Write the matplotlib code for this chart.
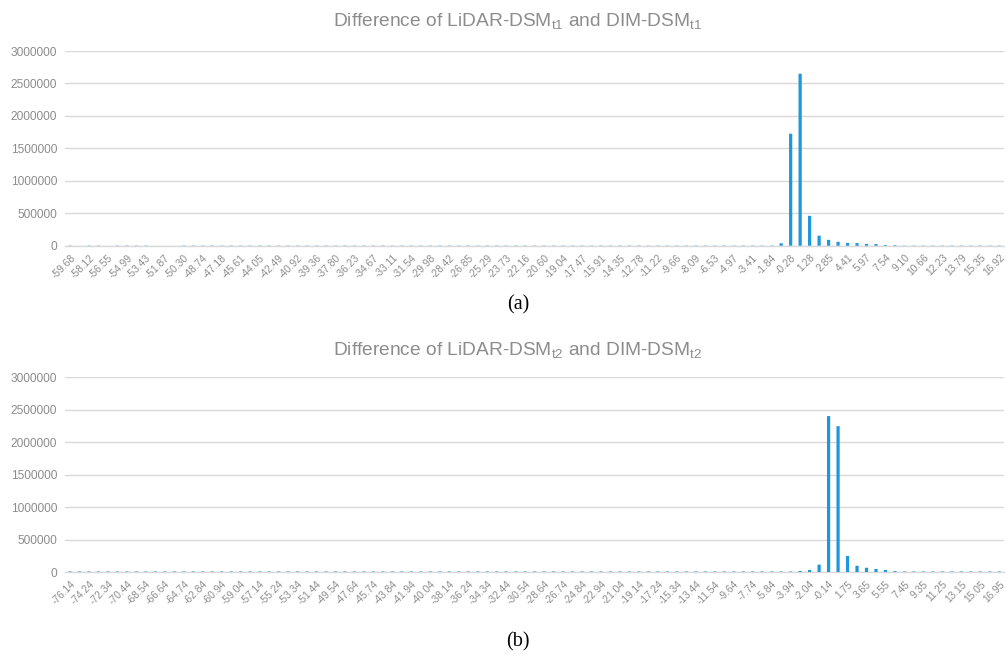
import matplotlib
matplotlib.use("Agg")
import matplotlib.pyplot as plt
import numpy as np

# ---------------- data ----------------
labels_a = ["-59.68", "-58.12", "-56.55", "-54.99", "-53.43", "-51.87", "-50.30", "-48.74",
            "-47.18", "-45.61", "-44.05", "-42.49", "-40.92", "-39.36", "-37.80", "-36.23",
            "-34.67", "-33.11", "-31.54", "-29.98", "-28.42", "-26.85", "-25.29", "-23.73",
            "-22.16", "-20.60", "-19.04", "-17.47", "-15.91", "-14.35", "-12.78", "-11.22",
            "-9.66", "-8.09", "-6.53", "-4.97", "-3.41", "-1.84", "-0.28", "1.28", "2.85",
            "4.41", "5.97", "7.54", "9.10", "10.66", "12.23", "13.79", "15.35", "16.92"]

labels_b = ["-76.14", "-74.24", "-72.34", "-70.44", "-68.54", "-66.64", "-64.74", "-62.84",
            "-60.94", "-59.04", "-57.14", "-55.24", "-53.34", "-51.44", "-49.54", "-47.64",
            "-45.74", "-43.84", "-41.94", "-40.04", "-38.14", "-36.24", "-34.34", "-32.44",
            "-30.54", "-28.64", "-26.74", "-24.84", "-22.94", "-21.04", "-19.14", "-17.24",
            "-15.34", "-13.44", "-11.54", "-9.64", "-7.74", "-5.84", "-3.94", "-2.04",
            "-0.14", "1.75", "3.65", "5.55", "7.45", "9.35", "11.25", "13.15", "15.05", "16.95"]

counts_a = [
    4000, 0, 4000, 4000, 0, 4000, 4000, 4000, 4000, 0,
    0, 0, 4000, 4000, 4000, 4000, 4000, 4000, 4000, 4000,
    4000, 4000, 4000, 4000, 4000, 4000, 4000, 4000, 4000, 4000,
    4000, 4000, 4000, 4000, 4000, 4000, 4000, 4000, 4000, 4000,
    4000, 4000, 4000, 4000, 4000, 4000, 4000, 4000, 4000, 4000,
    4000, 4000, 4000, 4000, 4000, 4000, 4000, 4000, 4000, 4000,
    4000, 4000, 4000, 4000, 4000, 4000, 4000, 4000, 4000, 4000,
    4000, 4000, 4000, 4000, 4000, 38000, 1725000, 2650000, 460000, 155000,
    90000, 60000, 42000, 40000, 28000, 26000, 10000, 9000, 4000, 4000,
    4000, 4000, 4000, 4000, 4000, 4000, 4000, 4000, 4000,
]

counts_b = [
    12000, 12000, 12000, 12000, 12000, 12000, 12000, 12000, 12000, 12000,
    12000, 12000, 12000, 12000, 12000, 12000, 12000, 12000, 12000, 12000,
    12000, 12000, 12000, 12000, 12000, 12000, 12000, 12000, 12000, 12000,
    12000, 12000, 12000, 12000, 12000, 12000, 12000, 12000, 12000, 12000,
    12000, 12000, 12000, 12000, 12000, 12000, 12000, 12000, 12000, 12000,
    12000, 12000, 12000, 12000, 12000, 12000, 12000, 12000, 12000, 12000,
    12000, 12000, 12000, 12000, 12000, 12000, 12000, 12000, 12000, 12000,
    12000, 12000, 12000, 12000, 12000, 12000, 12000, 20000, 36000, 118000,
    2400000, 2245000, 250000, 100000, 70000, 51000, 36000, 18000, 12000, 12000,
    12000, 12000, 12000, 12000, 12000, 12000, 12000, 12000, 12000,
]

yticks = [0, 500000, 1000000, 1500000, 2000000, 2500000, 3000000]

titles = [r"Difference of LiDAR-DSM$_{\mathregular{t1}}$ and DIM-DSM$_{\mathregular{t1}}$",
          r"Difference of LiDAR-DSM$_{\mathregular{t2}}$ and DIM-DSM$_{\mathregular{t2}}$"]
captions = ["(a)", "(b)"]

# ---------------- style ----------------
W, H = 1006, 657
fig = plt.figure(figsize=(W / 100, H / 100), dpi=100)
plt.rcParams["mathtext.fontset"] = "custom"
plt.rcParams["mathtext.rm"] = "Liberation Sans"

BAR = "#1f97dc"
GRID = "#d9d9d9"
TXT = "#8c8c8c"
FONT = "Liberation Sans"

def px_box(left, top, right, bottom):
    return [left / W, 1 - bottom / H, (right - left) / W, (bottom - top) / H]

axes_boxes = [px_box(65.3, 51, 1004.0, 245.7), px_box(65.3, 377, 1004.0, 572.3)]
title_y = [20, 349]
caption_y = [305, 642]

for i, (counts, labels) in enumerate([(counts_a, labels_a), (counts_b, labels_b)]):
    ax = fig.add_axes(axes_boxes[i])
    x = np.arange(len(counts))
    bars = ax.bar(x, counts, width=0.34, color=BAR, zorder=3, linewidth=0)
    for b in bars:
        b.set_snap(False)
    ax.set_xlim(-0.5, len(counts) - 0.5)
    ax.set_ylim(0, 3000000)
    ax.set_yticks(yticks)
    ax.set_yticklabels([str(v) for v in yticks], fontsize=8.6, color=TXT, family=FONT)
    ax.set_xticks(x[::2])
    ax.set_xticklabels(labels, rotation=45, ha="right", rotation_mode="anchor",
                       fontsize=7.4, color=TXT, family=FONT)
    ax.tick_params(axis="both", length=0)
    ax.tick_params(axis="y", pad=6)
    ax.tick_params(axis="x", pad=5)
    ax.grid(axis="y", color=GRID, linewidth=1.0, zorder=0)
    ax.set_axisbelow(True)
    for s in ["top", "right", "left"]:
        ax.spines[s].set_visible(False)
    ax.spines["bottom"].set_color(GRID)
    ax.spines["bottom"].set_linewidth(1.0)
    ax.spines["bottom"].set_zorder(1)
    ax.set_facecolor("white")

    fig.text(517 / W, 1 - (title_y[i] + 2) / H, titles[i], ha="center", va="center",
             fontsize=13.8, color=TXT, family=FONT)
    fig.text(518 / W, 1 - caption_y[i] / H, captions[i], ha="center", va="center",
             fontsize=14.5, color="black", family="Liberation Serif")

fig.savefig("out.png", dpi=100, facecolor="white")
